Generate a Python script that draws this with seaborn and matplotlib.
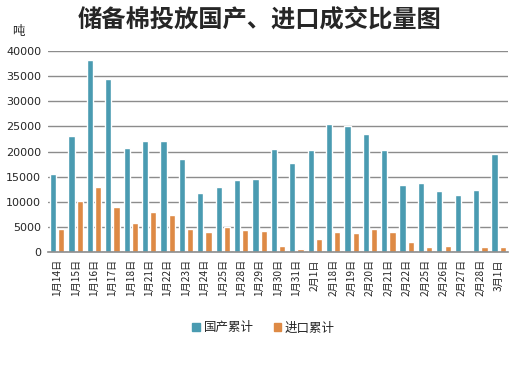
import pandas as pd
import matplotlib.pyplot as plt
import seaborn as sns

# === DATA ===
dates = ["1月14日", "1月15日", "1月16日", "1月17日", "1月18日", "1月21日", "1月22日",
         "1月23日", "1月24日", "1月25日", "1月28日", "1月29日", "1月30日", "1月31日",
         "2月1日", "2月18日", "2月19日", "2月20日", "2月21日", "2月22日", "2月25日",
         "2月26日", "2月27日", "2月28日", "3月1日"]
domestic = [15500, 23100, 38200, 34500, 20700, 22000, 22100, 18500, 11800, 13000,
            14400, 14500, 20500, 17700, 20300, 25500, 25000, 23500, 20300, 13400,
            13800, 12200, 11400, 12400, 19500]
imported = [4600, 10200, 13000, 9000, 5800, 8000, 7400, 4600, 4000, 5000,
            4400, 4200, 1200, 600, 2600, 4000, 3800, 4600, 4000, 2000,
            1000, 1200, 200, 1000, 1000]
series = ["国产累计", "进口累计"]
colors = ["#4A9BB1", "#DE8A45"]

df = pd.DataFrame({"日期": dates * 2,
                   "吨": domestic + imported,
                   "类别": [series[0]] * len(dates) + [series[1]] * len(dates)})

sns.set_style("white")
plt.rcParams['font.family'] = ['Noto Sans CJK SC', 'DejaVu Sans']

fig = plt.figure(figsize=(5.22, 3.66), dpi=100)
ax = fig.add_axes([0.092, 0.311, 0.881, 0.550])

sns.barplot(data=df, x="日期", y="吨", hue="类别", hue_order=series,
            palette=colors, width=0.9, gap=0.25, saturation=1, ax=ax)

ax.set_ylim(0, 40000)
ax.set_yticks(range(0, 40001, 5000))
ax.set_yticklabels([str(v) for v in range(0, 40001, 5000)], fontsize=8,
                   family='DejaVu Sans')
ax.yaxis.grid(True, color="#8c8c8c", linewidth=1)
ax.set_axisbelow(True)
ax.tick_params(axis='y', length=0, pad=5)
ax.tick_params(axis='x', length=0, pad=5, labelsize=7.3, rotation=90)
ax.set_xlabel("")
ax.set_ylabel("")
for s in ["top", "right", "left"]:
    ax.spines[s].set_visible(False)
ax.spines["bottom"].set_color("#8c8c8c")
ax.spines["bottom"].set_linewidth(1.2)
ax.set_xlim(-0.5, len(dates) - 0.5)

# title and unit
fig.text(0.497, 0.946, "储备棉投放国产、进口成交比量图", ha="center", va="center",
         fontsize=17.5, fontweight="bold")
fig.text(0.035, 0.913, "吨", ha="center", va="center", fontsize=9)

# legend
ax.get_legend().remove()
handles = [plt.Rectangle((0, 0), 1, 1, color=c) for c in colors]
fig.legend(handles, series, loc="center", bbox_to_anchor=(0.505, 0.104),
           ncol=2, frameon=False, fontsize=9, handlelength=0.6, handleheight=0.6,
           handletextpad=0.3, columnspacing=1.6)

fig.savefig("out.png", dpi=100)
